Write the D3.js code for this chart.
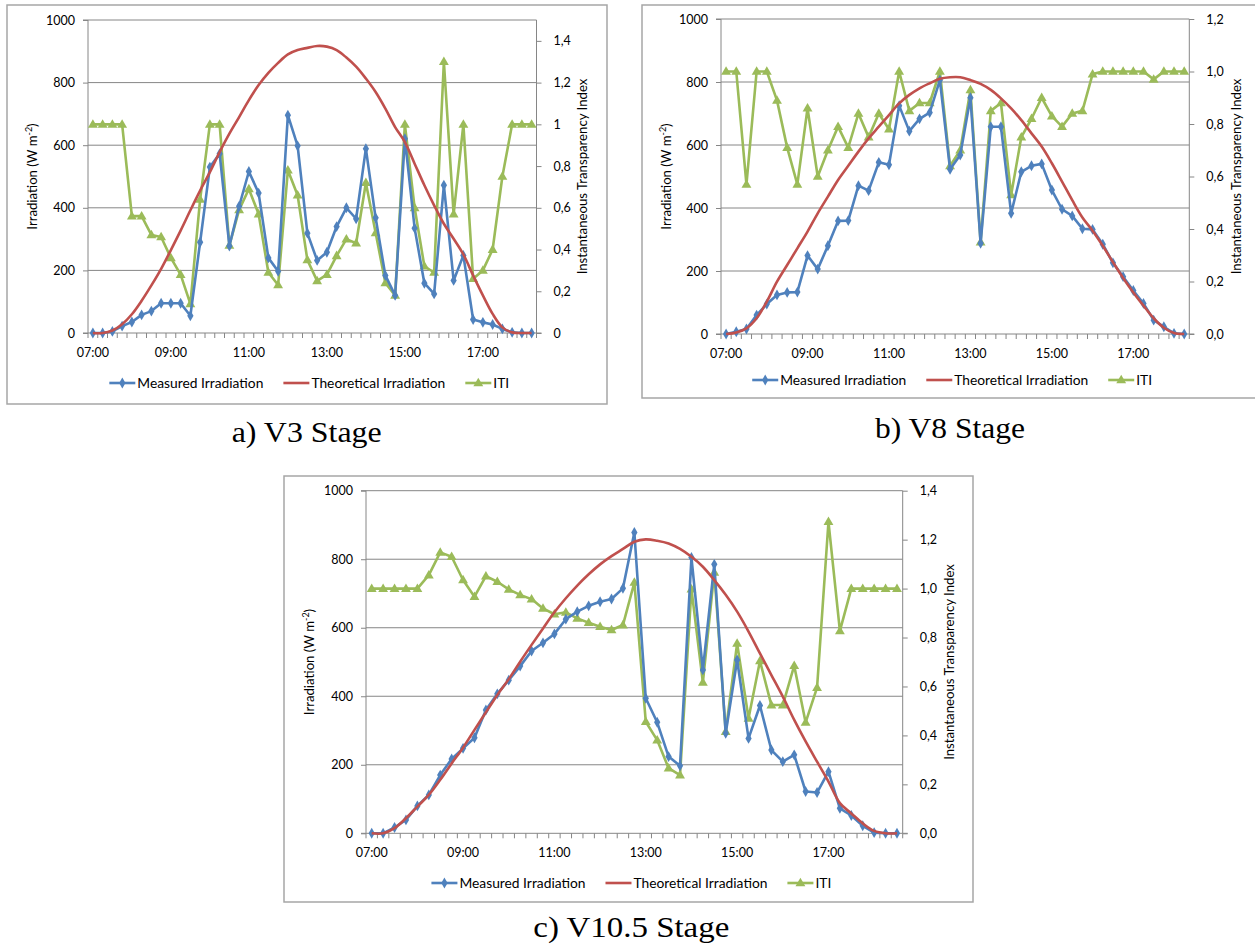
<!DOCTYPE html>
<html>
<head>
<meta charset="utf-8">
<script src="https://cdn.jsdelivr.net/npm/d3@7"></script>
<style>
  html, body { margin: 0; padding: 0; background: #fff; }
  svg { display: block; }
  text { fill: #000; }
  .sans { font-family: Lato, "Open Sans", sans-serif; }
  .serif { font-family: "Liberation Serif", "Times New Roman", serif; }
</style>
</head>
<body>
<svg id="chart" width="1255" height="950"></svg>
<script>
// ---------------- DATA ----------------
const times = ["07:00","07:15","07:30","07:45","08:00","08:15","08:30","08:45",
  "09:00","09:15","09:30","09:45","10:00","10:15","10:30","10:45",
  "11:00","11:15","11:30","11:45","12:00","12:15","12:30","12:45",
  "13:00","13:15","13:30","13:45","14:00","14:15","14:30","14:45",
  "15:00","15:15","15:30","15:45","16:00","16:15","16:30","16:45",
  "17:00","17:15","17:30","17:45","18:00","18:15","18:30"];
const xTickLabels = ["07:00","09:00","11:00","13:00","15:00","17:00"];
const leftTicks = [0,200,400,600,800,1000];
const rightTicksA = [0,0.2,0.4,0.6,0.8,1,1.2,1.4];
const rightTicksB = [0,0.2,0.4,0.6,0.8,1.0,1.2];
const rightTicksC = [0,0.2,0.4,0.6,0.8,1.0,1.2,1.4];
const seriesNames = ["Measured Irradiation","Theoretical Irradiation","ITI"];

// a) V3 Stage
const measuredA = [0,0,5,22,35,58,70,95,95,95,55,290,530,573,278,405,516,447,240,197,
  696,598,319,232,258,340,400,365,589,368,184,120,621,335,159,125,472,168,248,43,
  34,27,13,2,0,0];
const theoreticalA = [0,0,8,28,60,103,152,205,265,327,392,455,514,578,637,690,744,792,831,863,
  890,904,911,917,915,904,880,851,813,770,717,658,610,541,472,408,349,301,251,184,
  120,61,18,2,0,0];
const itiA = [1,1,1,1,0.56,0.56,0.47,0.46,0.36,0.28,0.14,0.64,1,1,0.42,0.59,0.69,0.57,0.29,0.23,
  0.78,0.66,0.35,0.25,0.28,0.37,0.45,0.43,0.72,0.48,0.24,0.18,1,0.6,0.32,0.29,1.3,0.57,1,0.26,
  0.3,0.4,0.75,1,1,1];

// b) V8 Stage
const measuredB = [0,7,16,60,95,124,132,133,249,206,280,359,360,471,455,545,537,725,644,683,
  703,806,523,568,750,288,658,658,383,515,534,540,457,396,375,334,332,285,226,182,
  138,97,44,23,2,0];
const theoreticalB = [0,5,18,50,103,166,219,272,325,383,436,489,534,579,621,658,695,732,759,780,
  796,810,815,815,806,794,775,748,716,679,637,595,542,484,425,370,328,280,228,178,
  132,90,50,20,3,0];
const itiB = [1,1,0.57,1,1,0.89,0.71,0.57,0.86,0.6,0.7,0.79,0.71,0.84,0.75,0.84,0.78,1,0.85,0.88,
  0.88,1,0.64,0.7,0.93,0.35,0.85,0.88,0.53,0.75,0.82,0.9,0.83,0.79,0.84,0.85,0.99,1,1,1,
  1,1,0.97,1,1,1];

// c) V10.5 Stage
const measuredC = [0,0,17,39,80,112,170,217,248,279,360,407,447,488,532,556,582,625,647,664,
  676,684,715,878,394,324,224,197,805,477,785,292,506,277,373,243,209,229,122,119,
  180,73,52,22,2,0,0];
const theoreticalC = [0,0,15,44,78,112,156,204,250,302,353,404,450,501,550,598,645,686,723,756,
  785,809,830,851,858,854,846,830,807,778,739,696,647,589,525,462,399,331,268,209,
  151,88,58,29,7,0,0];
const itiC = [1,1,1,1,1,1.055,1.148,1.13,1.035,0.967,1.051,1.028,0.997,0.974,0.957,0.919,0.895,0.903,0.878,0.861,
  0.844,0.831,0.851,1.025,0.456,0.381,0.266,0.238,0.998,0.617,1.066,0.415,0.776,0.47,0.704,0.524,0.524,0.685,0.453,0.595,
  1.273,0.827,1,1,1,1,1];

// ---------------- STYLE ----------------
const BLUE = "#4F81BD", RED = "#C0504D", GREEN = "#9BBB59";
const GRID = "#868686", FRAME = "#a6a6a6";
const TICK_FS = 12.5, LEG_FS = 13.8, TITLE_FS = 13.2;

const svg = d3.select("#chart");

function fmtComma(fixed) {
  return v => fixed ? d3.format(".1f")(v).replace(".", ",") : String(Math.round(v*10)/10).replace(".", ",");
}

function drawPanel(cfg) {
  const g = svg.append("g").attr("class", "sans");
  const cats = times.slice(0, cfg.n);
  // frame
  g.append("rect").attr("x", cfg.frame[0]).attr("y", cfg.frame[1])
    .attr("width", cfg.frame[2] - cfg.frame[0]).attr("height", cfg.frame[3] - cfg.frame[1])
    .attr("fill", "none").attr("stroke", FRAME).attr("stroke-width", 1.5);

  const x = d3.scaleBand().domain(cats).range([cfg.left, cfg.right]).padding(0);
  const bw = x.bandwidth();
  const cx = t => x(t) + bw / 2;
  const yL = d3.scaleLinear().domain([0, 1000]).range([cfg.bottom, cfg.top]);
  const yR = d3.scaleLinear().domain([0, cfg.rMax]).range([cfg.bottom, cfg.top]);

  // gridlines
  g.append("g").selectAll("line").data(leftTicks.filter(d => d > 0)).join("line")
    .attr("x1", cfg.left).attr("x2", cfg.right)
    .attr("y1", d => yL(d)).attr("y2", d => yL(d))
    .attr("stroke", GRID).attr("stroke-width", 1);

  // left axis
  const la = g.append("g").attr("transform", `translate(${cfg.left},0)`)
    .call(d3.axisLeft(yL).tickValues(leftTicks).tickSize(5).tickPadding(8).tickFormat(d3.format("d")));
  la.select(".domain").attr("stroke", GRID).attr("d", `M-5,${cfg.top}H0V${cfg.bottom}H-5`);
  la.selectAll(".tick line").attr("stroke", GRID);
  la.selectAll("text").attr("font-size", TICK_FS).attr("font-family", null).attr("fill", "#000");

  // right axis
  const ra = g.append("g").attr("transform", `translate(${cfg.right},0)`)
    .call(d3.axisRight(yR).tickValues(cfg.rTicks).tickSize(5).tickPadding(12).tickFormat(cfg.rFmt));
  ra.select(".domain").attr("stroke", GRID).attr("d", `M0,${cfg.top}V${cfg.bottom}H5`);
  ra.selectAll(".tick line").attr("stroke", GRID);
  ra.selectAll("text").attr("font-size", TICK_FS).attr("font-family", null).attr("fill", "#000");
  la.attr("font-family", null); ra.attr("font-family", null);

  // bottom axis
  const ba = g.append("g").attr("transform", `translate(0,${cfg.bottom})`);
  ba.append("line").attr("x1", cfg.left).attr("x2", cfg.right).attr("y1", 0).attr("y2", 0)
    .attr("stroke", GRID).attr("stroke-width", 1);
  ba.selectAll(".tk").data(cats.concat(["__end"])).join("line").attr("class", "tk")
    .attr("x1", d => d === "__end" ? cfg.right : x(d)).attr("x2", d => d === "__end" ? cfg.right : x(d))
    .attr("y1", 0).attr("y2", 5).attr("stroke", GRID).attr("stroke-width", 1);
  ba.selectAll(".lbl").data(xTickLabels).join("text").attr("class", "lbl")
    .attr("x", d => cx(d)).attr("y", 24).attr("text-anchor", "middle")
    .attr("font-size", TICK_FS).text(d => d);

  // axis titles
  const lt = g.append("text").attr("transform", `translate(${cfg.yLabelL},${(cfg.top + cfg.bottom) / 2}) rotate(-90)`)
    .attr("text-anchor", "middle").attr("font-size", TITLE_FS);
  lt.append("tspan").text("Irradiation (W m");
  lt.append("tspan").attr("font-size", 9).attr("dy", -5).text("-2");
  lt.append("tspan").attr("dy", 5).text(")");
  g.append("text").attr("transform", `translate(${cfg.yLabelR},${(cfg.top + cfg.bottom) / 2}) rotate(-90)`)
    .attr("text-anchor", "middle").attr("font-size", TITLE_FS).text("Instantaneous Transparency Index");

  // series
  const lineL = d3.line().x((d, i) => cx(cats[i])).y(d => yL(d));
  const lineLs = d3.line().x((d, i) => cx(cats[i])).y(d => yL(d)).curve(d3.curveCatmullRom.alpha(0.5));
  const lineR = d3.line().x((d, i) => cx(cats[i])).y(d => yR(d));

  g.append("path").datum(cfg.iti).attr("d", lineR).attr("fill", "none")
    .attr("stroke", GREEN).attr("stroke-width", 2.6).attr("stroke-linejoin", "round");
  g.append("g").selectAll("path").data(cfg.iti).join("path")
    .attr("d", d3.symbol(d3.symbolTriangle, 42))
    .attr("transform", (d, i) => `translate(${cx(cats[i])},${yR(d) + 0.5})`)
    .attr("fill", GREEN);

  g.append("path").datum(cfg.measured).attr("d", lineL).attr("fill", "none")
    .attr("stroke", BLUE).attr("stroke-width", 2.6).attr("stroke-linejoin", "round");
  g.append("g").selectAll("path").data(cfg.measured).join("path")
    .attr("d", d3.symbol(d3.symbolDiamond, 34))
    .attr("transform", (d, i) => `translate(${cx(cats[i])},${yL(d)})`)
    .attr("fill", BLUE);

  g.append("path").datum(cfg.theoretical).attr("d", lineLs).attr("fill", "none")
    .attr("stroke", RED).attr("stroke-width", 2.6).attr("stroke-linejoin", "round");

  // legend
  const leg = g.append("g");
  let xpos = 0;
  seriesNames.forEach((name, i) => {
    const it = leg.append("g").attr("transform", `translate(${xpos},0)`);
    const col = [BLUE, RED, GREEN][i];
    it.append("line").attr("x1", 0).attr("x2", 26).attr("y1", 0).attr("y2", 0)
      .attr("stroke", col).attr("stroke-width", 2.6);
    if (i === 0) it.append("path").attr("d", d3.symbol(d3.symbolDiamond, 34)).attr("transform", "translate(13,0)").attr("fill", col);
    if (i === 2) it.append("path").attr("d", d3.symbol(d3.symbolTriangle, 42)).attr("transform", "translate(13,0.5)").attr("fill", col);
    const t = it.append("text").attr("x", 28).attr("y", 5).attr("font-size", LEG_FS).text(name);
    const w = t.node().getComputedTextLength();
    xpos += 28 + w + 20;
  });
  const totalW = xpos - 20;
  leg.attr("transform", `translate(${(cfg.left + cfg.right) / 2 - totalW / 2 - 3},${cfg.legendY})`);

  // caption
  svg.append("text").attr("class", "serif").attr("x", cfg.caption[1]).attr("y", cfg.caption[2])
    .attr("font-size", 29)
    .attr("textLength", cfg.caption[3]).attr("lengthAdjust", "spacingAndGlyphs")
    .text(cfg.caption[0]);
}

drawPanel({
  n: 46, frame: [7, 5, 607, 404], left: 88, right: 536.5, top: 20, bottom: 333,
  rMax: 1.5, rTicks: rightTicksA, rFmt: fmtComma(false),
  measured: measuredA, theoretical: theoreticalA, iti: itiA,
  yLabelL: 37, yLabelR: 587, legendY: 383,
  caption: ["a) V3 Stage", 231.7, 441.5, 150]
});
drawPanel({
  n: 46, frame: [642, 5, 1262, 398], left: 721, right: 1189.3, top: 19, bottom: 334,
  rMax: 1.2, rTicks: rightTicksB, rFmt: fmtComma(true),
  measured: measuredB, theoretical: theoreticalB, iti: itiB,
  yLabelL: 671, yLabelR: 1241, legendY: 380,
  caption: ["b) V8 Stage", 875, 437.5, 150]
});
drawPanel({
  n: 47, frame: [284, 476, 973, 902], left: 366, right: 902.7, top: 490.7, bottom: 833.3,
  rMax: 1.4, rTicks: rightTicksC, rFmt: fmtComma(true),
  measured: measuredC, theoretical: theoreticalC, iti: itiC,
  yLabelL: 314, yLabelR: 954, legendY: 883,
  caption: ["c) V10.5 Stage", 533.3, 937.3, 196]
});
</script>
</body>
</html>
